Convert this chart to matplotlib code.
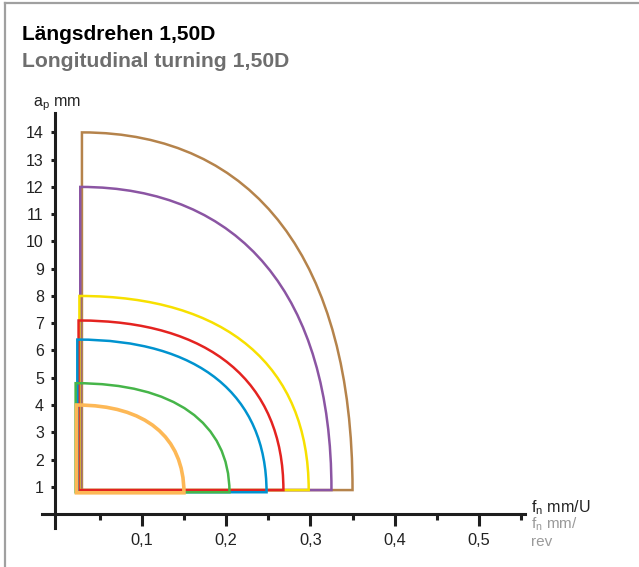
import matplotlib
matplotlib.use('Agg')
import matplotlib.pyplot as plt
from matplotlib.path import Path
from matplotlib.patches import PathPatch
from matplotlib.lines import Line2D

# application ranges, one entry per insert size (outer to inner)
ap_max = [14.0, 12.0, 8.0, 7.1, 6.4, 4.8, 4.0]
ap_min = [0.88, 0.88, 0.88, 0.88, 0.8, 0.8, 0.78]
fn_min = [0.029, 0.027, 0.026, 0.025, 0.0235, 0.0215, 0.0225]
fn_max = [0.35, 0.325, 0.298, 0.268, 0.248, 0.204, 0.15]

x_ticks = [0.1, 0.2, 0.3, 0.4, 0.5]
x_labels = ['0,1', '0,2', '0,3', '0,4', '0,5']
x_minor = [0.05, 0.15, 0.25, 0.35, 0.45, 0.55]
y_ticks = list(range(1, 15))

colors = ['#b5834b', '#8b55a3', '#f7e000', '#e42320', '#0093cf', '#46b549', '#fdb856']
widths = [1.8, 1.8, 1.8, 1.8, 1.8, 1.8, 2.6]

plt.rcParams['font.family'] = ['Liberation Sans', 'DejaVu Sans']
plt.rcParams['mathtext.fontset'] = 'custom'
plt.rcParams['mathtext.rm'] = 'Liberation Sans'

fig = plt.figure(figsize=(6.39, 5.67), dpi=100)
ax = fig.add_axes([0.0504, 0.0453, 0.7915, 0.7933])
ax.set_xlim(-0.03, 0.57)
ax.set_ylim(-1, 15.5)

k = 0.64  # bezier handle for the rounded corner
for i in range(len(ap_max)):
    x0, x1 = fn_min[i], fn_max[i]
    y0, y1 = ap_min[i], ap_max[i]
    verts = [(x0, y0), (x0, y1),
             (x0 + k * (x1 - x0), y1), (x1, y0 + k * (y1 - y0)), (x1, y0),
             (x0, y0), (x0, y0)]
    codes = [Path.MOVETO, Path.LINETO, Path.CURVE4, Path.CURVE4, Path.CURVE4,
             Path.LINETO, Path.CLOSEPOLY]
    ax.add_patch(PathPatch(Path(verts, codes), facecolor='none',
                           edgecolor=colors[i], lw=widths[i], joinstyle='miter'))

# axes crossing like in the catalogue
for s in ['top', 'right']:
    ax.spines[s].set_visible(False)
ax.spines['left'].set_position(('data', -0.003))
ax.spines['left'].set_bounds(-0.5, 14.7)
ax.spines['bottom'].set_position(('data', 0))
ax.spines['bottom'].set_bounds(-0.018, 0.555)
for s in ['left', 'bottom']:
    ax.spines[s].set_linewidth(2.2)
    ax.spines[s].set_color('#1e1e1e')

ax.set_xticks(x_ticks)
ax.set_xticklabels(x_labels)
ax.set_xticks(x_minor, minor=True)
ax.set_yticks(y_ticks)
ax.tick_params(axis='x', which='major', length=8.5, width=2.2, color='#1e1e1e',
               labelsize=11.8, pad=5, labelcolor='#222222')
ax.tick_params(axis='x', which='minor', length=4.5, width=2.2, color='#1e1e1e')
ax.tick_params(axis='y', which='major', length=3, width=2.2, color='#1e1e1e',
               labelsize=11.5, pad=5, labelcolor='#222222')

fig.text(22 / 639, 1 - 40 / 567, 'Längsdrehen 1,50D', fontsize=15.1,
         fontweight='bold', color='black')
fig.text(22 / 639, 1 - 67 / 567, 'Longitudinal turning 1,50D', fontsize=15.2,
         fontweight='bold', color='#6e6e6e')
fig.text(33 / 639, 1 - 106 / 567, r'a$_\mathregular{p}$ mm', fontsize=11.6,
         color='#222222')
fig.text(531 / 639, 1 - 512 / 567, r'f$_\mathregular{n}$ mm/U', fontsize=11.6,
         color='#222222')
fig.text(531 / 639, 1 - 528 / 567, r'f$_\mathregular{n}$ mm/', fontsize=11,
         color='#9a9a9a')
fig.text(531 / 639, 1 - 546 / 567, 'rev', fontsize=11, color='#9a9a9a')

# frame of the catalogue box
fig.add_artist(Line2D([5 / 639, 1], [1 - 2.5 / 567, 1 - 2.5 / 567],
                      transform=fig.transFigure, color='#a0a0a0', lw=1.6))
fig.add_artist(Line2D([5 / 639, 5 / 639], [0, 1 - 2.5 / 567],
                      transform=fig.transFigure, color='#a0a0a0', lw=1.6))

fig.savefig('out.png', dpi=100)
